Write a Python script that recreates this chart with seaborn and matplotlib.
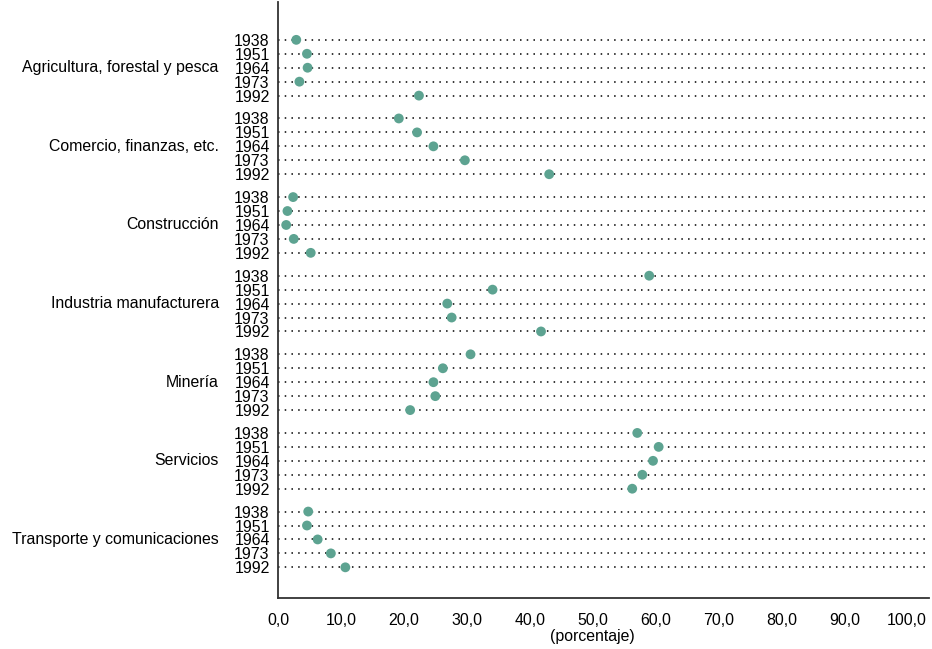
import matplotlib.pyplot as plt
import seaborn as sns
import pandas as pd

# sectors (top to bottom) and census years
SECTORS = [
    "Agricultura, forestal y pesca",
    "Comercio, finanzas, etc.",
    "Construcción",
    "Industria manufacturera",
    "Minería",
    "Servicios",
    "Transporte y comunicaciones",
]
YEARS = ["1938", "1951", "1964", "1973", "1992"]

# percentage values, one list per sector (years in order)
agricultura = [2.9, 4.6, 4.7, 3.4, 22.4]
comercio = [19.2, 22.1, 24.7, 29.7, 43.1]
construccion = [2.4, 1.5, 1.3, 2.5, 5.2]
industria = [59.0, 34.1, 26.9, 27.6, 41.8]
mineria = [30.6, 26.2, 24.7, 25.0, 21.0]
servicios = [57.1, 60.5, 59.6, 57.9, 56.3]
transporte = [4.8, 4.6, 6.3, 8.4, 10.7]

XTICKS = [0, 10, 20, 30, 40, 50, 60, 70, 80, 90, 100]

values = [agricultura, comercio, construccion, industria, mineria, servicios, transporte]
GROUP_STEP = 5.64  # rows per group incl. gap

rows = []
for g, (sector, vals) in enumerate(zip(SECTORS, values)):
    for i, (year, v) in enumerate(zip(YEARS, vals)):
        rows.append({"sector": sector, "year": year, "value": v,
                     "pos": g * GROUP_STEP + i})
df = pd.DataFrame(rows)

sns.set_style("white")
plt.rcParams["font.family"] = ["Liberation Sans", "DejaVu Sans"]
plt.rcParams["text.color"] = "black"
plt.rcParams["xtick.labelcolor"] = "black"
plt.rcParams["ytick.labelcolor"] = "black"
plt.rcParams["axes.labelcolor"] = "black"
FS = 11.4

fig = plt.figure(figsize=(9.32, 6.49), dpi=100)
ax = fig.add_axes([0.2983, 0.0786, 0.6987, 0.918])

# dotted guide lines
ax.hlines(df["pos"], 0, 103.5, colors="black", linestyles=(0, (1, 3.4)),
          linewidth=1.1, zorder=1)

sns.scatterplot(data=df, x="value", y="pos", color="#5DA391", s=50,
                edgecolor="none", ax=ax, zorder=3, legend=False)

ax.set_xlim(0, 103.5)
ax.set_ylim(df["pos"].max() + 2.2, -2.7)

ax.set_yticks(df["pos"])
ax.set_yticklabels(df["year"], fontsize=FS)
ax.tick_params(axis="y", length=0, pad=6)

ax.set_xticks(XTICKS)
ax.set_xticklabels([f"{t:.1f}".replace(".", ",") for t in XTICKS], fontsize=FS)
ax.tick_params(axis="x", direction="in", length=6, width=1, pad=11, colors="#222222")
ax.tick_params(axis="x", labelcolor="black")

for g, sector in enumerate(SECTORS):
    ax.text(-0.091, g * GROUP_STEP + 2, sector, transform=ax.get_yaxis_transform(),
            ha="right", va="center", fontsize=FS)

ax.set_xlabel("(porcentaje)", fontsize=FS)
ax.xaxis.set_label_coords(0.482, -0.052)
ax.set_ylabel("")

sns.despine(ax=ax)
for side in ("left", "bottom"):
    ax.spines[side].set_color("#333333")
    ax.spines[side].set_linewidth(1.3)

fig.savefig("out.png", dpi=100)
